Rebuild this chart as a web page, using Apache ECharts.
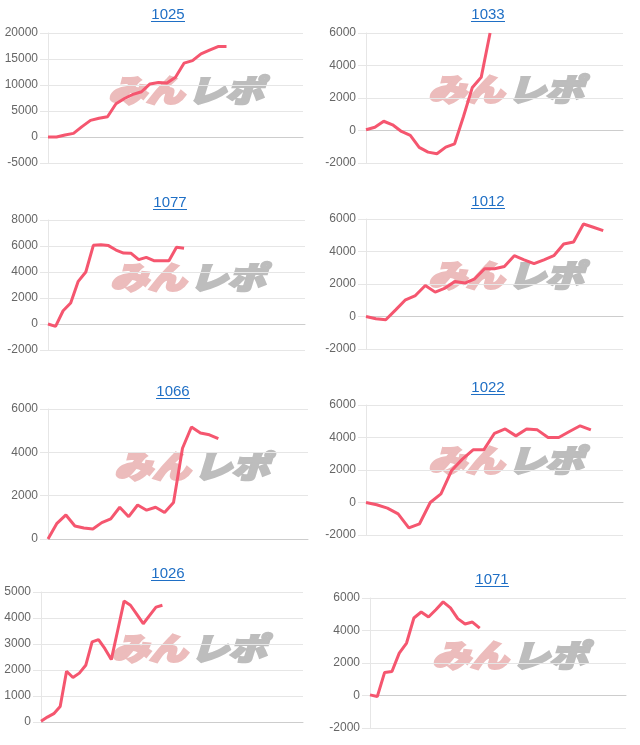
<!DOCTYPE html>
<html>
<head>
<meta charset="utf-8">
<script src="https://cdn.jsdelivr.net/npm/echarts@6/dist/echarts.min.js"></script>
<style>
  html, body { margin: 0; padding: 0; background: #fff; }
  #main { width: 640px; height: 745px; }
</style>
</head>
<body>
<div id="main"></div>
<script>
// 機種ごとの差枚推移（8枚）
const titles = ['1025', '1033', '1077', '1012', '1066', '1022', '1026', '1071'];
const dayCounts = [31, 30, 35, 27, 30, 25, 42, 36];

const d1025 = [0, 0, 400, 700, 2000, 3200, 3600, 3900, 6400, 7400, 8200, 8700, 10200, 10500, 10400, 11500, 14200, 14700, 16000, 16700, 17400, 17400];
const d1033 = [50, 200, 570, 350, -60, -300, -1040, -1330, -1430, -1020, -820, 860, 2650, 3270, 6000];
const d1077 = [0, -180, 1020, 1610, 3280, 4000, 6050, 6100, 6030, 5690, 5460, 5440, 4950, 5130, 4870, 4870, 4870, 5900, 5820];
const d1012 = [0, -140, -200, 410, 1030, 1290, 1910, 1500, 1750, 2160, 2060, 2320, 2940, 2940, 3080, 3740, 3490, 3250, 3490, 3740, 4460, 4580, 5690, 5490, 5280];
const d1066 = [0, 725, 1110, 600, 510, 460, 755, 925, 1465, 1030, 1570, 1330, 1465, 1220, 1680, 4190, 5170, 4890, 4810, 4630];
const d1022 = [0, -140, -350, -700, -1560, -1310, 0, 530, 1970, 2670, 3240, 3240, 4260, 4530, 4100, 4530, 4470, 4000, 4000, 4370, 4720, 4470];
const d1026 = [30, 190, 320, 600, 1950, 1710, 1880, 2180, 3080, 3170, 2820, 2400, 3520, 4650, 4490, 4140, 3780, 4100, 4420, 4490];
const d1071 = [40, -60, 1420, 1480, 2610, 3230, 4770, 5140, 4830, 5280, 5760, 5390, 4730, 4400, 4520, 4150];
const seriesData = [d1025, d1033, d1077, d1012, d1066, d1022, d1026, d1071];

// y軸の範囲
const yMin = [-5000, -2000, -2000, -2000, 0, -2000, 0, -2000];
const yMax = [20000, 6000, 8000, 6000, 6000, 6000, 5000, 6000];
const yStep = [5000, 2000, 2000, 2000, 2000, 2000, 1000, 2000];

// 配置（px）
const layout = [
  { left: 48,  top: 33,  width: 255, tx: 168, ty: 15,  mx: 184, my: 90 },
  { left: 366, top: 33,  width: 257, tx: 488, ty: 15,  mx: 504, my: 89 },
  { left: 48,  top: 220, width: 257, tx: 170, ty: 203, mx: 186, my: 277 },
  { left: 366, top: 219, width: 257, tx: 488, ty: 202, mx: 504, my: 275 },
  { left: 48,  top: 409, width: 260, tx: 173, ty: 392, mx: 190, my: 466 },
  { left: 366, top: 405, width: 257, tx: 488, ty: 388, mx: 504, my: 460 },
  { left: 41,  top: 592, width: 262, tx: 168, ty: 574, mx: 187, my: 648 },
  { left: 370, top: 598, width: 256, tx: 492, ty: 580, mx: 508, my: 655 }
];

const LINE_COLOR = '#f5566f';
const LINK_COLOR = '#1f6fc5';
const GRID_COLOR = '#e6e6e6';
const MARK_FONT = 'italic 900 31px "Noto Sans CJK JP"';

const option = { animation: false, title: [], grid: [], xAxis: [], yAxis: [], series: [], graphic: [] };

titles.forEach(function (name, i) {
  const L = layout[i];
  const days = [];
  for (let d = 1; d <= dayCounts[i]; d++) days.push(String(d));

  option.title.push({
    text: name,
    left: L.tx,
    top: L.ty - 8,
    textAlign: 'center',
    padding: 0,
    textStyle: { color: LINK_COLOR, fontSize: 15, fontWeight: 'normal', fontFamily: 'Arial, "Liberation Sans"' }
  });
  // リンク風の下線
  option.graphic.push({
    type: 'line', silent: true,
    shape: { x1: L.tx - 17, y1: L.ty + 6.5, x2: L.tx + 17, y2: L.ty + 6.5 },
    style: { stroke: LINK_COLOR, lineWidth: 1 }
  });
  // ロゴの透かし
  option.graphic.push({
    type: 'group', x: L.mx, y: L.my, scaleX: 1.22, z: -10, silent: true,
    children: [
      { type: 'text', style: { text: 'みん', x: 0, y: 0, textAlign: 'right', textVerticalAlign: 'middle',
          fill: '#ecbcbc', stroke: '#ecbcbc', lineWidth: 2.5, font: MARK_FONT } },
      { type: 'text', style: { text: 'レポ', x: 3, y: 0, textAlign: 'left', textVerticalAlign: 'middle',
          fill: '#bdbdbd', stroke: '#bdbdbd', lineWidth: 2.5, font: MARK_FONT } }
    ]
  });

  option.grid.push({ left: L.left, top: L.top, width: L.width, height: 130 });
  option.xAxis.push({
    type: 'category', gridIndex: i, data: days, boundaryGap: false,
    axisLabel: { show: false }, axisTick: { show: false }, splitLine: { show: false },
    axisLine: { show: true, onZero: true, lineStyle: { color: '#cdcdcd', width: 1 } }
  });
  option.yAxis.push({
    type: 'value', gridIndex: i, min: yMin[i], max: yMax[i], interval: yStep[i],
    axisLine: { show: true, lineStyle: { color: GRID_COLOR } },
    axisTick: { show: true, length: 8, lineStyle: { color: GRID_COLOR } },
    axisLabel: { color: '#666', fontSize: 12, margin: 10, fontFamily: 'Arial, "Liberation Sans"',
      formatter: function (v) { return String(v); } },
    splitLine: { show: true, lineStyle: { color: GRID_COLOR } }
  });
  option.series.push({
    type: 'line', xAxisIndex: i, yAxisIndex: i, data: seriesData[i],
    symbol: 'none', smooth: false, z: 5,
    lineStyle: { color: LINE_COLOR, width: 3 }
  });
});

const chart = echarts.init(document.getElementById('main'));
chart.setOption(option);
</script>
</body>
</html>
